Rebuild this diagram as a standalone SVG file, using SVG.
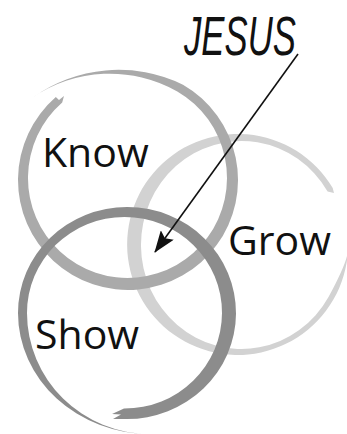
<svg xmlns="http://www.w3.org/2000/svg" width="347" height="434" viewBox="0 0 347 434">
  <style>
    .label { font-family: "Open Sans", "Liberation Sans", sans-serif; font-size: 41px; fill: #111; }
    .title { font-family: "Liberation Sans", "Open Sans", sans-serif; font-size: 56px; font-style: italic; fill: #111; }
    .ring-know { fill: #aaaaaa; }
    .ring-grow { fill: #d2d2d2; }
    .ring-show { fill: #8c8c8c; }
    .conn { stroke: #111; stroke-width: 1.6; fill: none; }
  </style>
  <defs>
    <marker id="head" viewBox="0 0 22 16" refX="21" refY="8" markerWidth="22" markerHeight="16" markerUnits="userSpaceOnUse" orient="auto">
      <path d="M0,0 L22,8 L0,16 L4,8 Z" fill="#111"/>
    </marker>
  </defs>
  <rect width="347" height="434" fill="#ffffff"/>

  <g id="grow">
    <path class="ring-grow" d="M348,250 A110.5,110.5 0 1 1 332.7,188.1 L334,193 L327.6,191.4 A100.5,104 0 1 0 328.5,297 Q347.5,262 348,250 Z"/>
    <text class="label" x="228" y="255">Grow</text>
  </g>

  <g id="know">
    <path class="ring-know" d="M55.8,97 A110,110 0 1 0 183,84.7 A147,147 0 0 0 32,98 A137,137 0 0 1 177.3,91.4 A99.5,100 0 1 1 62.2,102.5 L64,96 L59,100 Z"/>
    <text class="label" x="42" y="167">Know</text>
  </g>

  <g id="show">
    <path class="ring-show" d="M126,419 A109,106 0 1 0 18,313 A132,121 0 0 0 150,434 A123,121 0 0 1 27,313 A97.5,95.8 0 1 1 124,408.6 L112,414 L121,414.5 L113,419 Z"/>
    <text class="label" x="35" y="349">Show</text>
  </g>

  <g id="jesus">
    <text class="title" transform="translate(184,55) scale(0.62,1)" x="0" y="0">JESUS</text>
  </g>

  <g id="connectors">
    <path class="conn" d="M298,54 L155,252" marker-end="url(#head)"/>
  </g>
</svg>
